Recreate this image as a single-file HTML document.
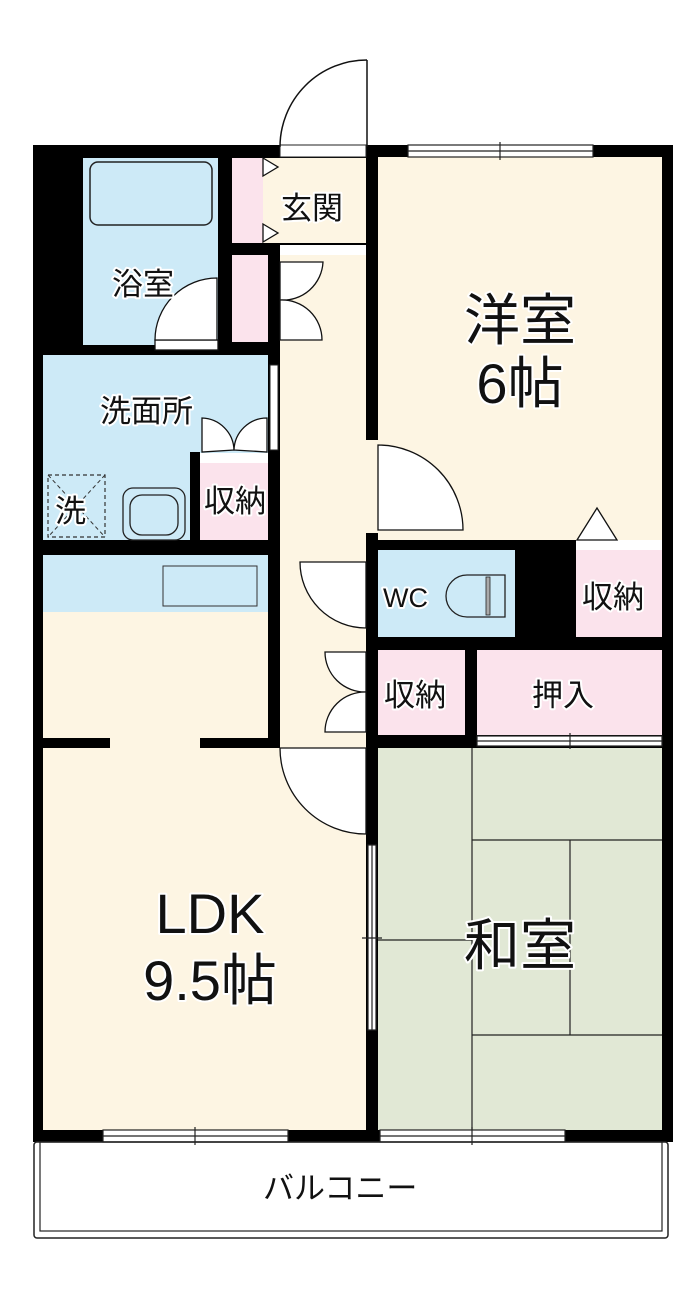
<!DOCTYPE html>
<html><head><meta charset="utf-8"><style>
html,body{margin:0;padding:0;background:#fff;}
svg{display:block}
text{font-family:"Liberation Sans","Noto Sans CJK JP",sans-serif;fill:#111;stroke:#fff;stroke-width:4;paint-order:stroke;stroke-linejoin:round;}
</style></head><body>
<svg width="700" height="1295" viewBox="0 0 700 1295" xmlns="http://www.w3.org/2000/svg">
<rect width="700" height="1295" fill="#fff"/>
<rect x="33" y="145" width="640" height="997" fill="#000"/>
<rect x="83" y="158" width="135" height="187" fill="#cdeaf7"/>
<rect x="90" y="162" width="122" height="63" rx="8" fill="#cdeaf7" stroke="#222" stroke-width="1.5"/>
<rect x="232" y="158" width="31" height="85" fill="#fbe3ec"/>
<rect x="232" y="255" width="36" height="87" fill="#fbe3ec"/>
<rect x="263" y="158" width="103" height="85" fill="#fdf5e3"/>
<rect x="280" y="245" width="86" height="10" fill="#fff"/>
<rect x="43" y="355" width="225" height="185" fill="#cdeaf7"/>
<rect x="200" y="453" width="68" height="87" fill="#fbe3ec"/>
<rect x="190" y="452" width="10" height="88" fill="#000"/>
<rect x="200" y="453" width="68" height="10" fill="#fff"/>
<rect x="43" y="555" width="225" height="57" fill="#cdeaf7"/>
<rect x="163" y="566" width="94" height="40" fill="#cdeaf7" stroke="#333" stroke-width="1"/>
<rect x="43" y="612" width="225" height="126" fill="#fdf5e3"/>
<rect x="280" y="255" width="86" height="493" fill="#fdf5e3"/>
<rect x="43" y="748" width="323" height="382" fill="#fdf5e3"/>
<rect x="110" y="738" width="90" height="10" fill="#fdf5e3"/>
<rect x="378" y="157" width="284" height="383" fill="#fdf5e3"/>
<rect x="378" y="550" width="137" height="87" fill="#cdeaf7"/>
<rect x="576" y="550" width="86" height="87" fill="#fbe3ec"/>
<rect x="576" y="540" width="86" height="10" fill="#fff"/>
<rect x="378" y="650" width="87" height="85" fill="#fbe3ec"/>
<rect x="477" y="650" width="185" height="85" fill="#fbe3ec"/>
<rect x="378" y="748" width="284" height="382" fill="#e1e8d5"/>
<g stroke="#222" stroke-width="1.2" fill="none">
<line x1="472" y1="748" x2="472" y2="1130"/>
<line x1="472" y1="840" x2="662" y2="840"/>
<line x1="570" y1="840" x2="570" y2="1035"/>
<line x1="472" y1="1035" x2="662" y2="1035"/>
<line x1="378" y1="940" x2="472" y2="940"/>
</g>
<g fill="#fff" stroke="#222" stroke-width="1.2">
<rect x="408" y="145" width="185" height="12"/>
<line x1="408" y1="151" x2="593" y2="151"/>
<rect x="103" y="1130" width="185" height="12"/>
<line x1="103" y1="1136" x2="288" y2="1136"/>
<rect x="380" y="1130" width="185" height="12"/>
<line x1="380" y1="1136" x2="565" y2="1136"/>
<rect x="477" y="736" width="185" height="10"/>
<line x1="477" y1="741" x2="662" y2="741"/>
<rect x="368" y="845" width="8" height="185"/>
<line x1="372" y1="845" x2="372" y2="1030"/>
<line x1="500" y1="142" x2="500" y2="160"/>
<line x1="195" y1="1127" x2="195" y2="1145"/>
<line x1="472" y1="1127" x2="472" y2="1145"/>
<line x1="570" y1="733" x2="570" y2="749"/>
<line x1="362" y1="938" x2="382" y2="938"/>
</g>
<rect x="280" y="145" width="86" height="12" fill="#fff" stroke="#222" stroke-width="1"/>
<g fill="none" stroke="#111" stroke-width="1.5">
<line x1="367" y1="60" x2="367" y2="147"/>
<path d="M280 147 A87 87 0 0 1 367 60"/>
</g>
<g fill="#fff" stroke="#111" stroke-width="1.3">
<rect x="155" y="340" width="63" height="10"/>
<path d="M155 340 A62 62 0 0 1 217 278 L217 340 Z"/>
<path d="M280 262 L323 262 A40 40 0 0 1 280 300 Z"/>
<path d="M280 300 A40 40 0 0 1 322 340 L280 340 Z"/>
<path d="M202 452 L202 418 A33 33 0 0 1 234 450 Z"/>
<path d="M234 450 A33 33 0 0 1 267 418 L267 452 Z"/>
<path d="M366 562 L300 562 A66 66 0 0 0 366 628 Z"/>
<path d="M366 652 L325 652 A40 40 0 0 0 366 692 Z"/>
<path d="M366 692 A40 40 0 0 0 325 732 L366 732 Z"/>
<path d="M280 748 L366 748 L366 834 A86 86 0 0 1 280 748 Z"/>
<path d="M577 540 L597 508 L617 540 Z"/>
<path d="M263 158 L278 167 L263 176 Z"/>
<path d="M263 224 L278 233 L263 242 Z"/>
</g>
<rect x="366" y="440" width="12" height="93" fill="#fdf5e3"/>
<path d="M378 445 L378 530 L463 530 A85 85 0 0 0 378 445 Z" fill="#fff" stroke="#111" stroke-width="1.3"/>
<rect x="270" y="365" width="8" height="85" fill="#fff" stroke="#222" stroke-width="1"/>
<rect x="48" y="475" width="57" height="62" fill="none" stroke="#333" stroke-width="1.2" stroke-dasharray="4,3"/>
<line x1="48" y1="475" x2="105" y2="537" stroke="#333" stroke-dasharray="4,3"/>
<line x1="105" y1="475" x2="48" y2="537" stroke="#333" stroke-dasharray="4,3"/>
<rect x="123" y="488" width="62" height="52" rx="10" fill="#cdeaf7" stroke="#222" stroke-width="1.3"/>
<rect x="130" y="495" width="48" height="40" rx="12" fill="none" stroke="#222" stroke-width="1.3"/>
<path d="M488 575 L505 575 L505 617 L467 617 A21 21 0 0 1 467 575 Z" fill="#cdeaf7" stroke="#222" stroke-width="1.3"/>
<rect x="486" y="577" width="4" height="38" fill="#aaa" stroke="#222" stroke-width="0.8"/>
<rect x="34" y="1142" width="634" height="96" rx="3" fill="none" stroke="#222" stroke-width="1.5"/>
<rect x="40" y="1142" width="622" height="89" fill="none" stroke="#222" stroke-width="1.2"/>
<g font-size="31">
<text x="281" y="219">玄関</text>
<text x="112" y="295">浴室</text>
<text x="100" y="422">洗面所</text>
<text x="55" y="522">洗</text>
<text x="204" y="512">収納</text>
<text x="582" y="608">収納</text>
<text x="384" y="706">収納</text>
<text x="532" y="706">押入</text>
<text x="263" y="1199">バルコニー</text>
</g>
<text x="383" y="607" font-size="27">WC</text>
<g font-size="56" text-anchor="middle">
<text x="520" y="340">洋室</text>
<text x="520" y="403">6帖</text>
<text x="210" y="933">LDK</text>
<text x="210" y="1000">9.5帖</text>
<text x="520" y="965">和室</text>
</g>
</svg>
</body></html>
